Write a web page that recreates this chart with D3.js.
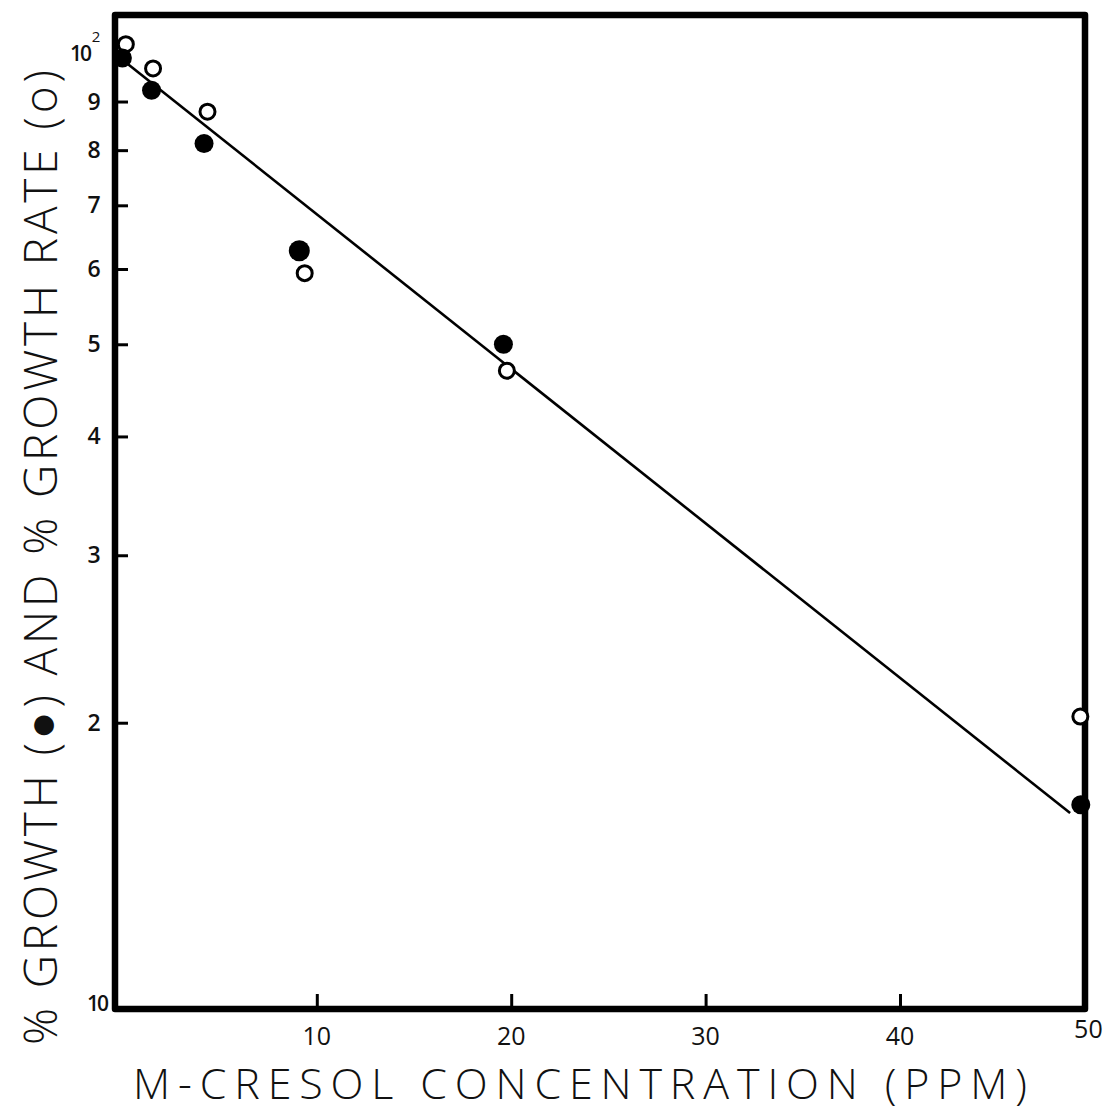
<!DOCTYPE html>
<html>
<head>
<meta charset="utf-8">
<script src="https://cdn.jsdelivr.net/npm/d3@7"></script>
<style>
  html, body { margin: 0; padding: 0; background: #fff; }
  svg { display: block; }
  text { font-family: "Open Sans", "DejaVu Sans", sans-serif; fill: #111; }
</style>
</head>
<body>
<svg id="chart" width="1117" height="1113"></svg>
<script>
// m-cresol concentration (ppm) for each measurement
const growthConc = [0, 1.5, 4.2, 9.1, 19.6, 49.3];
// % growth (filled markers)
const growthPct = [100, 92.5, 81.3, 62.7, 50.0, 16.4];

const rateConc = [0.1, 1.5, 4.3, 9.3, 19.7, 49.2];
// % growth rate (open markers)
const ratePct = [103.4, 97.5, 87.8, 59.4, 46.9, 20.3];

// fitted semi-log regression line, end points
const fitConc = [0.13, 48.75];
const fitPct = [99.1, 16.07];

// axis ticks and their labels
const xTicks = [10, 20, 30, 40];
const xTickLabels = ["10", "20", "30", "40", "50"];
const xLabelValues = [10, 20, 30, 40, 50];
const yTicks = [20, 30, 40, 50, 60, 70, 80, 90];
const yLabelValues = [10, 20, 30, 40, 50, 60, 70, 80, 90, 100];
const yTickLabels = ["10", "2", "3", "4", "5", "6", "7", "8", "9", "10"];

const xTitle = "M-CRESOL CONCENTRATION (PPM)";
const yTitle = "% GROWTH (\u25CF) AND % GROWTH RATE (o)";

const svg = d3.select("#chart");

const x = d3.scaleLinear().domain([0, 50]).range([122.4, 1094.4]);
const y = d3.scaleLog().domain([10, 100]).range([1009, 58]);

// plot frame
const frame = { left: 115, right: 1085, top: 15, bottom: 1009 };

// tick marks (pointing inward)
const gx = svg.append("g")
  .attr("transform", `translate(0,${frame.bottom})`)
  .call(d3.axisBottom(x).tickValues(xTicks).tickSizeInner(-15).tickSizeOuter(0).tickFormat(""));
gx.select(".domain").remove();
gx.selectAll(".tick line").attr("stroke", "#000").attr("stroke-width", 3);

const gy = svg.append("g")
  .attr("transform", `translate(${frame.left},0)`)
  .call(d3.axisLeft(y).tickValues(yTicks).tickSizeInner(-13).tickSizeOuter(0).tickFormat(""));
gy.select(".domain").remove();
gy.selectAll(".tick line").attr("stroke", "#000").attr("stroke-width", 3);

// frame
svg.append("path")
  .attr("d", `M${frame.left},${frame.top}H${frame.right}V${frame.bottom}H${frame.left}Z`)
  .attr("fill", "none")
  .attr("stroke", "#000")
  .attr("stroke-width", 6.5)
  .attr("stroke-linejoin", "round");

// x tick labels
svg.append("g").selectAll("text")
  .data(xLabelValues)
  .join("text")
  .attr("x", (d) => x(d) - (d === 50 ? 6 : 0))
  .attr("y", (d) => d === 50 ? 1038 : 1045)
  .attr("text-anchor", "middle")
  .attr("font-size", 25)
  .text((d, i) => xTickLabels[i]);

// y tick labels
svg.append("g").selectAll("text")
  .data(yLabelValues)
  .join("text")
  .attr("x", (d) => d === 10 ? 97 : d === 100 ? 80 : 94)
  .attr("y", (d) => y(d) + (d === 100 ? 3 : d === 10 ? 2 : 8))
  .attr("text-anchor", "middle")
  .attr("font-size", (d) => (d === 10 || d === 100) ? 21 : 23)
  .attr("font-weight", 600)
  .attr("letter-spacing", (d) => (d === 10 || d === 100) ? -2 : 0)
  .text((d, i) => yTickLabels[i]);
// exponent on the top label
svg.append("text")
  .attr("x", 96).attr("y", 42)
  .attr("font-size", 15)
  .attr("text-anchor", "middle")
  .text("2");

// regression line
const line = d3.line().x((d) => x(d[0])).y((d) => y(d[1]));
svg.append("path")
  .datum(d3.zip(fitConc, fitPct))
  .attr("d", line)
  .attr("fill", "none")
  .attr("stroke", "#000")
  .attr("stroke-width", 2.6);

// % growth rate: open circles
svg.append("g").selectAll("circle")
  .data(d3.zip(rateConc, ratePct))
  .join("circle")
  .attr("cx", (d) => x(d[0]) + 1.5)
  .attr("cy", (d) => y(d[1]))
  .attr("r", 7.5)
  .attr("fill", "#fff")
  .attr("stroke", "#000")
  .attr("stroke-width", 3);

// % growth: filled circles
svg.append("g").selectAll("circle")
  .data(d3.zip(growthConc, growthPct))
  .join("circle")
  .attr("cx", (d) => x(d[0]))
  .attr("cy", (d) => y(d[1]))
  .attr("r", (d, i) => i === 3 ? 10.5 : 9.5)
  .attr("fill", "#000");

// axis titles
svg.append("text")
  .attr("x", 133)
  .attr("y", 1099)
  .attr("font-size", 43)
  .attr("font-weight", 300)
  .attr("textLength", 894)
  .attr("lengthAdjust", "spacing")
  .text(xTitle);

svg.append("text")
  .attr("transform", "translate(57,1045) rotate(-90)")
  .attr("x", 0)
  .attr("y", 0)
  .attr("font-size", 46)
  .attr("font-weight", 300)
  .attr("textLength", 975)
  .attr("lengthAdjust", "spacing")
  .text(yTitle);
</script>
</body>
</html>
